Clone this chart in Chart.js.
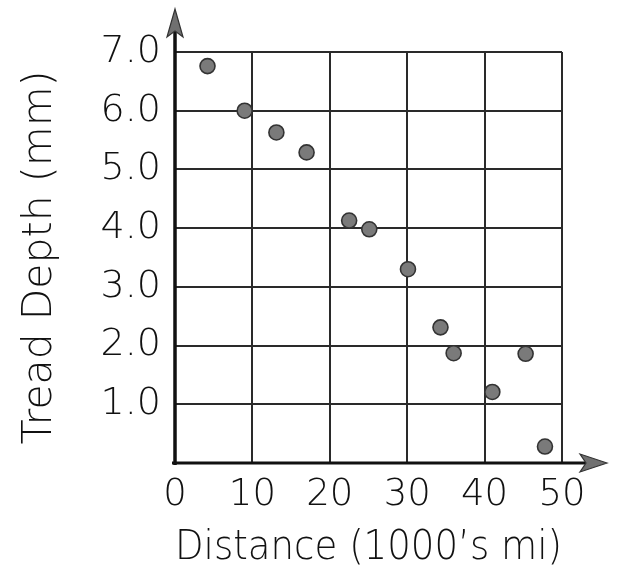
<!DOCTYPE html>
<html>
<head>
<meta charset="utf-8">
<script src="https://cdn.jsdelivr.net/npm/chart.js@4.4.1/dist/chart.umd.min.js"></script>
<style>
  html, body { margin: 0; padding: 0; background: #ffffff; }
  #wrap { width: 621px; height: 581px; position: relative; }
</style>
</head>
<body>
<div id="wrap"><canvas id="c" width="621" height="581"></canvas></div>
<script>
// ---- data ----
const distance = [4.2, 9.0, 13.1, 17.0, 22.5, 25.1, 30.1, 34.3, 36.0, 41.0, 45.3, 47.8];
const treadDepth = [6.76, 6.0, 5.63, 5.29, 4.13, 3.98, 3.3, 2.31, 1.87, 1.21, 1.86, 0.28];
const xTicks = [0, 10, 20, 30, 40, 50];
const yTicks = [0, 1, 2, 3, 4, 5, 6, 7];
const xTitle = "Distance (1000\u2019s mi)";
const yTitle = "Tread Depth (mm)";

const points = distance.map((d, i) => ({ x: d, y: treadDepth[i] }));
const FONT = '"DejaVu Sans", "Noto Sans", sans-serif';

const arrowAxes = {
  id: 'arrowAxes',
  afterDraw(chart) {
    const ctx = chart.ctx;
    const xs = chart.scales.x, ys = chart.scales.y;
    const x0 = xs.getPixelForValue(0);
    const y0 = ys.getPixelForValue(0);
    ctx.save();
    ctx.strokeStyle = '#111';
    ctx.lineCap = 'butt';
    // y axis
    ctx.lineWidth = 3.5;
    ctx.beginPath();
    ctx.moveTo(x0, y0 + 2);
    ctx.lineTo(x0, 22);
    ctx.stroke();
    // x axis
    ctx.lineWidth = 3;
    ctx.beginPath();
    ctx.moveTo(x0 - 3, y0);
    ctx.lineTo(590, y0);
    ctx.stroke();
    // arrow heads
    ctx.fillStyle = '#707070';
    ctx.strokeStyle = '#333';
    ctx.lineWidth = 1.2;
    ctx.beginPath();
    ctx.moveTo(x0, 9);
    ctx.lineTo(x0 + 8, 37);
    ctx.lineTo(x0, 31);
    ctx.lineTo(x0 - 8, 37);
    ctx.closePath();
    ctx.fill(); ctx.stroke();
    ctx.beginPath();
    ctx.moveTo(607, y0);
    ctx.lineTo(580, y0 - 9);
    ctx.lineTo(586, y0);
    ctx.lineTo(580, y0 + 9);
    ctx.closePath();
    ctx.fill(); ctx.stroke();
    ctx.restore();
  }
};

new Chart(document.getElementById('c'), {
  type: 'scatter',
  data: {
    datasets: [{
      data: points,
      pointRadius: 7.5,
      pointHoverRadius: 7.5,
      pointBackgroundColor: '#7a7a7a',
      pointBorderColor: '#333',
      pointBorderWidth: 1.6
    }]
  },
  options: {
    responsive: false,
    animation: false,
    devicePixelRatio: 1,
    layout: { padding: { top: 52, right: 59, left: 0, bottom: 0 } },
    plugins: { legend: { display: false }, tooltip: { enabled: false } },
    scales: {
      x: {
        type: 'linear',
        min: 0, max: 50,
        afterBuildTicks: s => { s.ticks = xTicks.map(v => ({ value: v })); },
        afterFit: s => { s.height = 118; },
        grid: { color: '#2a2a2a', lineWidth: 2, drawTicks: false },
        border: { display: false },
        ticks: {
          color: '#111', padding: 10,
          font: { family: FONT, size: 37, weight: 200 },
          callback: v => String(v)
        },
        title: {
          display: true, text: xTitle, color: '#111',
          font: { family: FONT, size: 40, weight: 200 },
          padding: { top: 0, bottom: 8 }
        }
      },
      y: {
        type: 'linear',
        min: 0, max: 7,
        afterBuildTicks: s => { s.ticks = yTicks.map(v => ({ value: v })); },
        afterFit: s => { s.width = 175; },
        grid: { color: '#2a2a2a', lineWidth: 2, drawTicks: false },
        border: { display: false },
        ticks: {
          color: '#111', padding: 14,
          font: { family: FONT, size: 38, weight: 200 },
          callback: v => (v === 0 ? '' : Number(v).toFixed(1))
        },
        title: {
          display: true, text: yTitle, color: '#111',
          font: { family: FONT, size: 41, weight: 200 },
          padding: { top: 16, bottom: 0 }
        }
      }
    }
  },
  plugins: [arrowAxes]
});
</script>
</body>
</html>
